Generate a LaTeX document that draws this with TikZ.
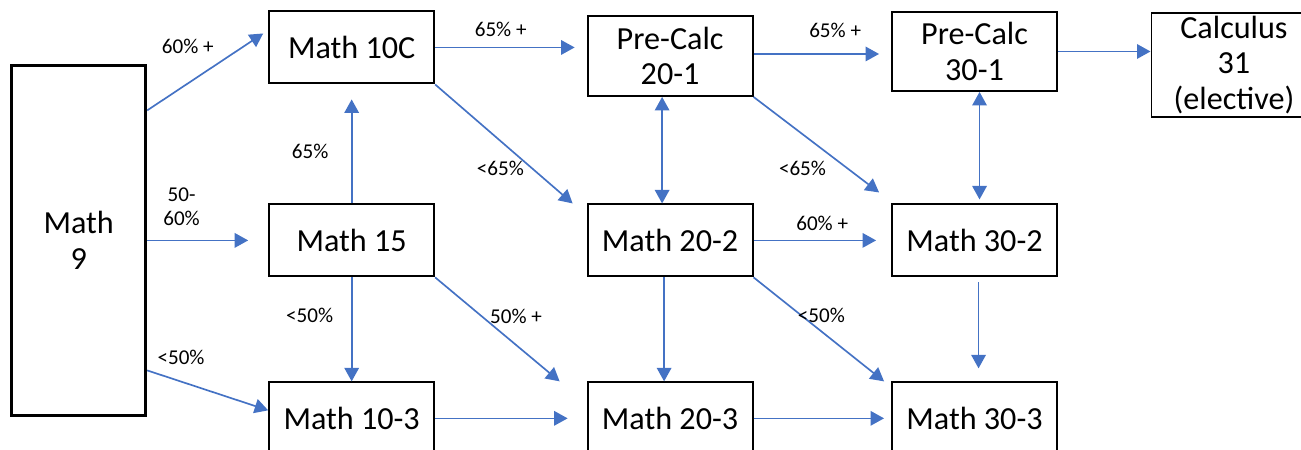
\documentclass[tikz,border=0pt]{standalone}
\usepackage{fontspec}
\setmainfont{Carlito}
\usetikzlibrary{arrows.meta, positioning}
\definecolor{arrowblue}{HTML}{4472C4}

\begin{document}
\begin{tikzpicture}[
    node distance=2cm,
    course/.style={rectangle, draw, line width=1.1pt, minimum width=3.3cm, minimum height=1.44cm, align=center, inner sep=2pt, font=\fontsize{18.3}{20}\selectfont},
    twoline/.style={course, minimum height=1.6cm},
    flow/.style={-{Triangle[length=2.7mm, width=2.9mm]}, arrowblue, line width=0.95pt},
    both/.style={flow, {Triangle[length=2.7mm, width=2.9mm]}-{Triangle[length=2.7mm, width=2.9mm]}},
    pct/.style={inner sep=0pt, align=center, text=black, font=\fontsize{12}{13.5}\selectfont}
]

\useasboundingbox (0,0) rectangle (26.02,-8.98);

% Grade 9
\node[course, line width=1.7pt, minimum width=2.68cm, minimum height=6.99cm] (math9) at (1.574,-4.808) {Math\\9};

% Grade 10
\node[course, right=2.42cm of math9] (math15) {Math 15};
\node[course, above=2.38cm of math15] (math10c) {Math 10C};
\node[course, below=2.08cm of math15] (math103) {Math 10-3};

% Grade 11
\node[course, right=3.03cm of math15] (math202) {Math 20-2};
\node[twoline, above=2.13cm of math202] (pc201) {Pre-Calc\\20-1};
\node[course, below=2.08cm of math202] (math203) {Math 20-3};

% Grade 12
\node[course, right=2.75cm of math202] (math302) {Math 30-2};
\node[twoline, minimum height=1.58cm, above=2.23cm of math302] (pc301) {Pre-Calc\\30-1};
\node[course, below=2.08cm of math302] (math303) {Math 30-3};
\node[course, minimum height=2.05cm, right=1.85cm of pc301, yshift=-0.27cm] (calc) {Calculus\\31\\(elective)};

% Arrows
\draw[flow] ([yshift=2.6cm]math9.east) -- node[pct, pos=0.35, yshift=0.75cm] {60\% +} ([xshift=-0.1cm, yshift=0.28cm]math10c.west);
\draw[flow] (math9.east) -- node[pct, pos=0.34, yshift=0.67cm] {50-\\60\%} ([xshift=-0.4cm]math15.west);
\draw[flow] ([yshift=-2.6cm]math9.east) -- node[pct, pos=0.28, yshift=0.48cm] {<50\%} ([yshift=0.16cm]math103.west);
\draw[flow] (math15.north) -- node[pct, pos=0.5, xshift=-0.83cm] {65\%} ([yshift=-0.3cm]math10c.south);
\draw[flow] (math15.south) -- node[pct, pos=0.37, xshift=-0.84cm] {<50\%} (math103.north);
\draw[flow] (math10c.east) -- node[pct, pos=0.47, yshift=0.36cm] {65\% +} ([xshift=-0.24cm]math10c.east -| pc201.west);
\draw[flow] (math10c.south east) -- node[pct, pos=0.475, yshift=-0.55cm] {<65\%} ([xshift=-0.28cm]math202.north west);
\draw[flow] (math15.south east) -- node[pct, pos=0.65, yshift=0.58cm] {50\% +} ([xshift=-0.54cm]math203.north west);
\draw[flow] (math103.east) -- ([xshift=-0.38cm]math103.east -| math203.west);
\draw[both] ([xshift=-0.16cm]pc201.south) -- ([xshift=-0.16cm]pc201.south |- math202.north);
\draw[flow] ([yshift=0.04cm]pc201.east) -- node[pct, pos=0.65, yshift=0.48cm] {65\% +} ([xshift=-0.24cm, yshift=0.04cm]pc201.east -| pc301.west);
\draw[flow] (pc201.south east) -- node[pct, pos=0.39, yshift=-0.69cm] {<65\%} ([xshift=-0.24cm, yshift=0.22cm]math302.north west);
\draw[flow] (math202.east) -- node[pct, pos=0.56, yshift=0.34cm] {60\% +} ([xshift=-0.3cm]math302.west);
\draw[flow] (math202.south east) -- node[pct, pos=0.52, yshift=0.32cm] {<50\%} ([xshift=-0.14cm]math303.north west);
\draw[flow] ([xshift=-0.12cm]math202.south) -- ([xshift=-0.12cm]math203.north);
\draw[flow] (math203.east) -- ([xshift=-0.14cm]math303.west);
\draw[both] ([xshift=0.1cm]pc301.south) -- ([xshift=0.1cm, yshift=0.08cm]math302.north);
\draw[flow] ([xshift=0.08cm, yshift=-0.1cm]math302.south) -- ([xshift=0.08cm, yshift=0.26cm]math303.north);
\draw[flow] (pc301.east) -- (pc301.east -| calc.west);

\end{tikzpicture}
\end{document}
